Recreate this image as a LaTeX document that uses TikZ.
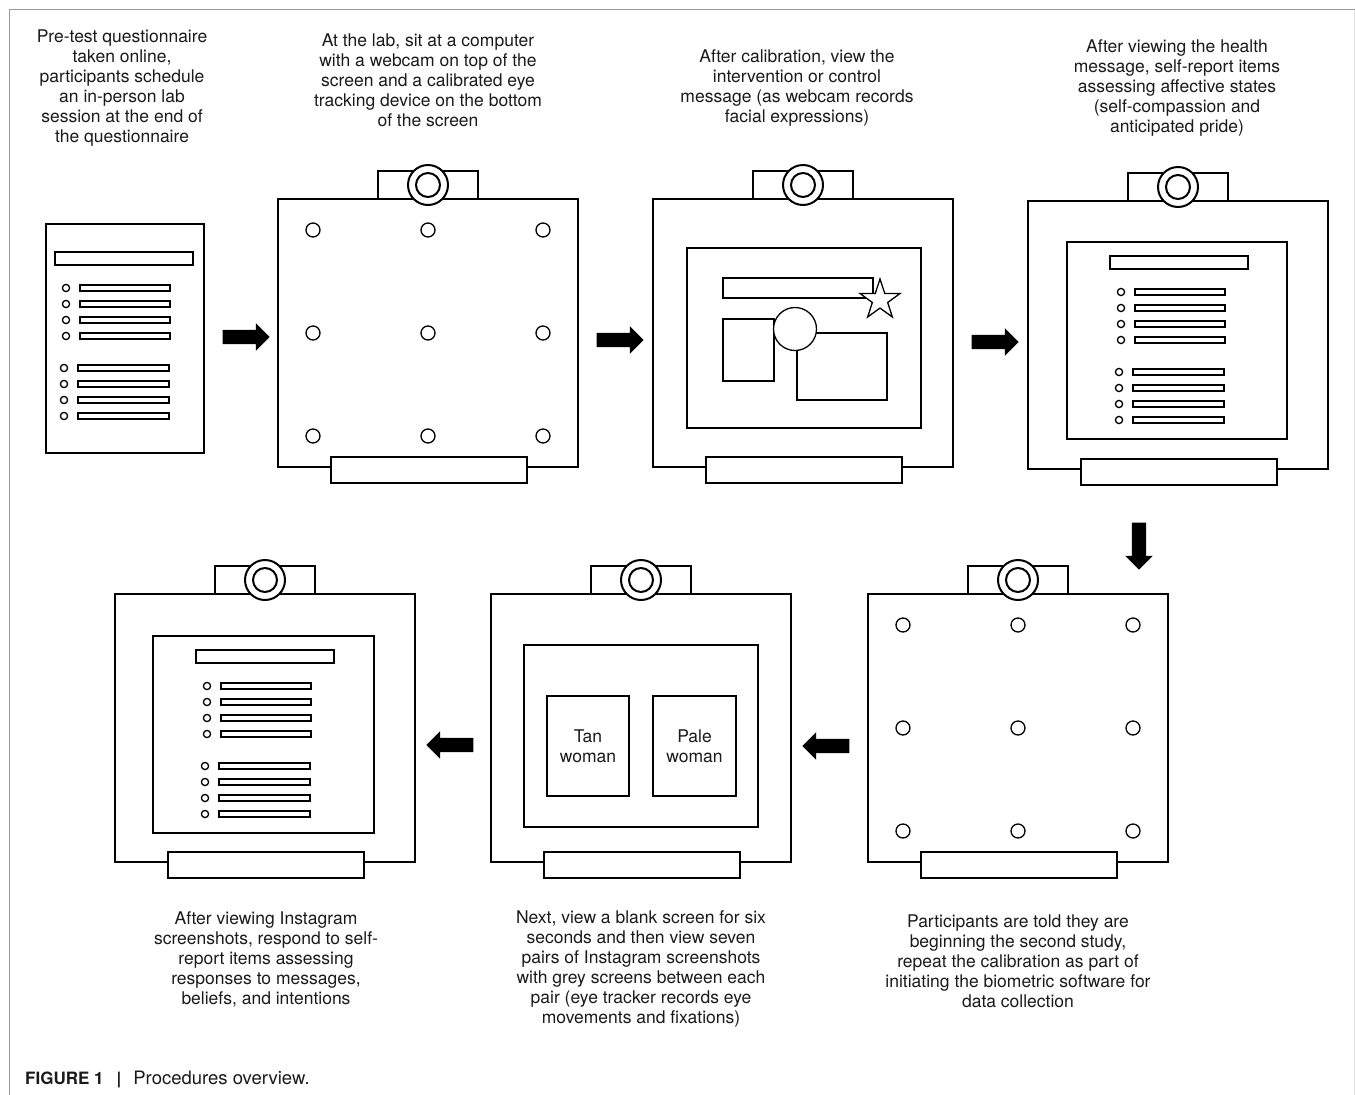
\documentclass[tikz,border=0pt]{standalone}
\usepackage{fontspec}
\setmainfont{TeX Gyre Heros}
\usetikzlibrary{shapes.geometric,shapes.arrows}

\definecolor{ink}{HTML}{1A1A1A}
\definecolor{framegray}{HTML}{9A9A9A}

\tikzset{
  thickline/.style={line width=2.2pt},
  thinline/.style={line width=1.3pt},
  steptext/.style={align=center, text=ink, inner sep=0pt,
    font=\fontsize{17.5}{20}\selectfont},
  flowarrow/.style={single arrow, fill=black, draw=none, inner xsep=0pt,
    inner ysep=7pt, single arrow head extend=6.5pt, minimum height=47pt},
  % monitor: outer frame, webcam on top, stand below
  monitor/.pic={
    \node[draw, thickline, anchor=north west, inner sep=0pt, outer sep=0pt,
      minimum width=300pt, minimum height=268pt] (-frame) at (0,0) {};
    \draw[thickline, fill=white] (100,-28) rectangle (200,0);
    \draw[line width=2pt, fill=white] (150,-14) circle (20pt);
    \draw[line width=2pt] (150,-14) circle (12pt);
    \draw[line width=2pt, fill=white] (53,258) rectangle (249,284);
  },
  % nine calibration targets
  calib/.pic={
    \foreach \cx in {35,150,265}
      \foreach \cy in {31,134,237}
        \draw[thinline] (\cx,\cy) circle (7pt);
  },
  % questionnaire: title bar and two groups of radio items
  qlist/.pic={
    \draw[thinline] (0,0) rectangle (138,13);
    \foreach \yy in {36,52,68,84} {
      \draw[thinline] (11,\yy) circle (3.6pt);
      \draw[thinline] (25,\yy-3) rectangle (115,\yy+3);
    }
    \foreach \yy in {116,132,148,164} {
      \draw[thinline] (9,\yy) circle (3.6pt);
      \draw[thinline] (23,\yy-3) rectangle (114,\yy+3);
    }
  }
}

\begin{document}
\begin{tikzpicture}[x=1pt, y=-1pt]
\fill[white] (0,0) rectangle (1355,1095);
\useasboundingbox (0,0) rectangle (1355,1095);

% page frame
\draw[framegray, line width=1pt] (9.5,1095) -- (9.5,9.5) -- (1355,9.5);
\draw[gray!25, line width=1pt] (1354,9.5) -- (1354,1095);

% ---- step 1: online questionnaire
\node[draw, thickline, anchor=north west, inner sep=0pt,
  minimum width=158pt, minimum height=229pt] (q) at (45,223) {};
\pic at (55,252) {qlist};

% ---- step 2: calibration
\pic (m1) at (278,199) {monitor};
\pic at (278,199) {calib};

% ---- step 3: message viewing
\pic (m2) at (653,199) {monitor};
\begin{scope}[shift={(653,199)}]
  \draw[thickline] (34,49) rectangle (268,229);
  \draw[thinline] (70,79) rectangle (220,99);
  \draw[thinline] (70,120) rectangle (121,182);
  \draw[thinline] (144,134) rectangle (234,201);
  \draw[thinline, fill=white] (142,130) circle (21.5pt);
  \node[star, star points=5, star point ratio=2.6, draw, fill=white, thinline,
    minimum size=42pt, inner sep=0pt] (star) at (227,101) {};
\end{scope}

% ---- step 4: self-report items
\pic (m3) at (1028,201) {monitor};
\begin{scope}[shift={(1028,201)}]
  \draw[thickline] (39,41) rectangle (259,238);
\end{scope}
\pic at (1110,256) {qlist};

% ---- step 5: second calibration
\pic (m5) at (868,594) {monitor};
\pic at (868,594) {calib};

% ---- step 6: Instagram screenshots
\pic (m6) at (491,594) {monitor};
\begin{scope}[shift={(491,594)}]
  \draw[thickline] (33,51) rectangle (267,233);
  \draw[thinline] (56,102) rectangle (138,202);
  \draw[thinline] (162,102) rectangle (245,202);
  \node[steptext] (tan) at (97,152) {Tan\\woman};
  \node[steptext] (pale) at (203.5,152) {Pale\\woman};
\end{scope}

% ---- step 7: final self-report
\pic (m7) at (115,594) {monitor};
\begin{scope}[shift={(115,594)}]
  \draw[thickline] (38,42) rectangle (259,239);
\end{scope}
\pic at (196,650) {qlist};

% ---- flow arrows
\node[flowarrow] (a1) at (242.5,337) {};
\node[flowarrow] (a2) at (616.5,340) {};
\node[flowarrow] (a3) at (991.5,342) {};
\node[flowarrow, rotate=-90] (a4) at (1139,542.5) {};
\node[flowarrow, rotate=180] (a5) at (829.5,746) {};
\node[flowarrow, rotate=180] (a6) at (453.5,745) {};

% ---- step descriptions
\node[steptext] (t1) at (122,88) {Pre-test questionnaire\\taken online,\\participants schedule\\an in-person lab\\session at the end of\\the questionnaire};
\node[steptext] (t2) at (428,80) {At the lab, sit at a computer\\with a webcam on top of the\\screen and a calibrated eye\\tracking device on the bottom\\of the screen};
\node[steptext] (t3) at (797,88) {After calibration, view the\\intervention or control\\message (as webcam records\\facial expressions)};
\node[steptext] (t4) at (1177,88) {After viewing the health\\message, self-report items\\assessing affective states\\(self-compassion and\\anticipated pride)};
\node[steptext] (t5) at (1018,961) {Participants are told they are\\beginning the second study,\\repeat the calibration as part of\\initiating the biometric software for\\data collection};
\node[steptext] (t6) at (641,969) {Next, view a blank screen for six\\seconds and then view seven\\pairs of Instagram screenshots\\with grey screens between each\\pair (eye tracker records eye\\movements and fixations)};
\node[steptext] (t7) at (266,959) {After viewing Instagram\\screenshots, respond to self-\\report items assessing\\responses to messages,\\beliefs, and intentions};

% ---- caption
\node[anchor=base west, inner sep=0pt, text=ink, font=\fontsize{17}{20}\selectfont]
  (cap) at (25,1084) {\bfseries FIGURE 1\hspace{13pt}|\hspace{12pt}\mdseries\fontsize{18.5}{20}\selectfont Procedures overview.};
\end{tikzpicture}
\end{document}
